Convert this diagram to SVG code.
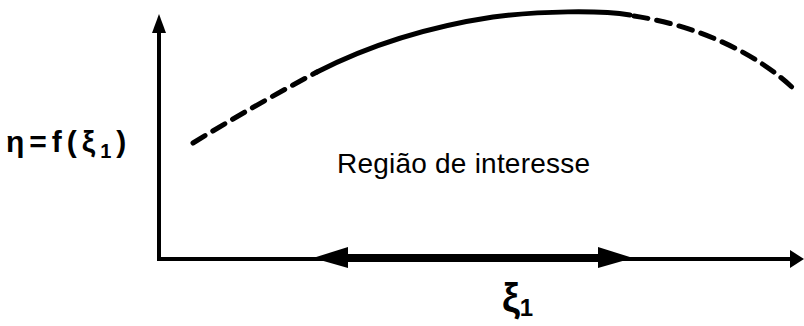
<svg xmlns="http://www.w3.org/2000/svg" width="804" height="326" viewBox="0 0 804 326">
<style>
.ax{stroke:#000;stroke-width:4;fill:none}
.curve{stroke:#000;stroke-width:5;fill:none;stroke-linecap:round}
.dash{stroke-dasharray:14 9}
.t{font-family:"Liberation Sans",Arial,sans-serif;fill:#000}
</style>
<rect width="804" height="326" fill="#fff"/>
<g id="connectors">
<line class="ax" x1="159" y1="261" x2="159" y2="30"/>
<polygon points="159,14 152,33 166,33" fill="#000"/>
<line class="ax" x1="157" y1="259" x2="790" y2="259"/>
<polygon points="804,259 790,250 790,268" fill="#000"/>
<line x1="340" y1="258" x2="605" y2="258" stroke="#000" stroke-width="8"/>
<polygon points="313,258 348,247 348,268" fill="#000"/>
<polygon points="633,258 598,247 598,268" fill="#000"/>
</g>
<g id="curve">
<path class="curve dash" d="M193,143 Q255,105 317,72"/>
<path class="curve" d="M317,72 C360,50 420,28 493,17 C540,11 600,10 630,15"/>
<path class="curve dash" d="M634,16 C700,26 760,55 797,92"/>
</g>
<g id="label-y">
<text class="t" x="6" y="152" font-size="30" font-weight="bold" letter-spacing="5">η=f(ξ<tspan font-size="20" dy="6">1</tspan><tspan dy="-6">)</tspan></text>
</g>
<g id="label-region">
<text class="t" x="337" y="173" font-size="28" textLength="253">Região de interesse</text>
</g>
<g id="label-x">
<text class="t" x="502" y="312" font-size="40" font-weight="bold">ξ<tspan font-size="24" dy="4">1</tspan></text>
</g>
</svg>
